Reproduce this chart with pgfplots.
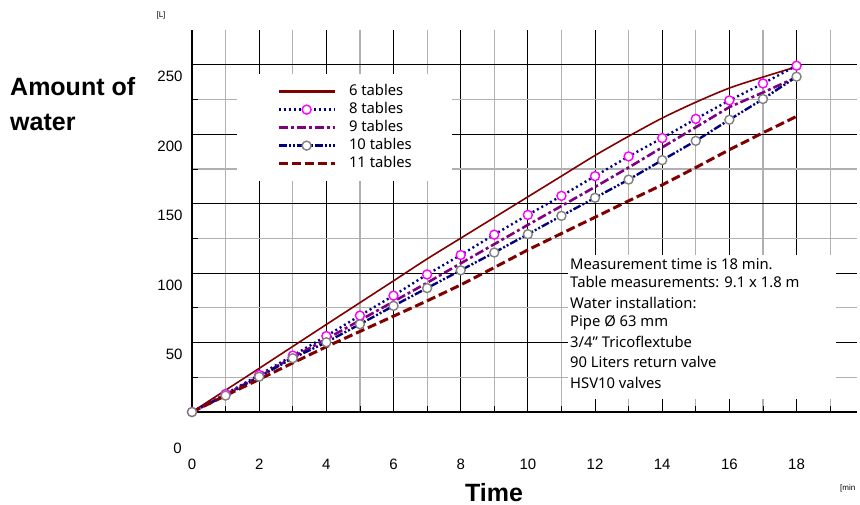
\documentclass[border=0pt]{standalone}
\usepackage{pgfplots}
\usepackage{pgfplotstable}
\pgfplotsset{compat=1.18}
\usepackage{fontspec}
\setmainfont{Noto Sans}
\newfontfamily\arialf{Liberation Sans}

\definecolor{darkred}{HTML}{800000}
\definecolor{navyb}{HTML}{000080}
\definecolor{purp}{HTML}{800080}
\definecolor{magn}{HTML}{FF00FF}
\definecolor{markgray}{HTML}{808080}
\definecolor{gridgray}{HTML}{B0B0B0}

% amount of water [L] per minute
\pgfplotstableread{
t  six    eight  nine   ten    eleven
0  0      0      0      0      0
1  15.7   13.0   12.5   11.8   11.8
2  31.4   26.7   25.8   25.4   23.5
3  47.2   40.6   39.3   38.7   35.3
4  63.0   54.7   52.5   50.2   47.0
5  78.7   69.4   66.0   63.2   58.0
6  94.4   83.8   79.5   76.4   69.0
7  110.2  99.0   93.0   89.2   80.0
8  125.1  113.0  107.0  102.0  91.5
9  140.0  127.7  120.8  114.8  104.0
10 154.9  141.9  134.7  128.0  116.7
11 169.8  155.6  148.3  141.2  128.5
12 184.7  169.8  162.0  154.2  140.2
13 198.5  184.0  176.0  167.3  152.0
14 211.6  197.2  190.5  181.3  163.5
15 223.0  211.0  205.0  195.2  176.0
16 233.2  224.3  219.5  210.4  188.8
17 241.1  236.5  230.0  225.3  201.0
18 248.5  249.3  241.0  241.4  212.8
}\datatable

\begin{document}
\begin{tikzpicture}
\useasboundingbox (0pt,0pt) rectangle (860pt,504pt);
\begin{axis}[
  at={(192pt,92pt)}, anchor=south west,
  scale only axis, width=665pt, height=382pt,
  xmin=0, xmax=19.8, ymin=0, ymax=275,
  axis x line=bottom, axis y line=left,
  axis line style={-, line width=1.6pt},
  xtick={0,2,...,18}, minor xtick={1,3,...,19},
  ytick={0,50,...,250}, minor ytick={25,75,...,225},
  yticklabels={,50,100,150,200,250},
  grid=both,
  major grid style={black, line width=1pt},
  minor grid style={gridgray, line width=1.2pt},
  tick align=inside, major tick length=9pt, minor tick length=6pt,
  every tick/.style={black, line width=0.8pt},
  /pgf/number format/assume math mode=true,
  ticklabel style={font=\arialf\fontsize{15}{15}\selectfont},
  xticklabel style={yshift=-43pt, text height=11pt, text depth=0pt},
  yticklabel style={yshift=-12pt, xshift=-6pt},
  legend style={at={(0.0677,0.885)}, anchor=north west,
    fill=white, draw=none, inner xsep=40pt, inner ysep=10pt,
    font=\fontsize{14.8}{14.8}\selectfont,
    nodes={inner sep=0pt, text height=11pt, text depth=4pt},
    row sep=3pt, column sep=13pt},
  legend cell align=left,
  legend image code/.code={
    \draw[mark repeat=2, mark phase=2, #1, line width=2.8pt]
      plot coordinates {(0pt,0pt) (28pt,0pt) (56pt,0pt)};},
]
\addplot[darkred, line width=1.6pt, smooth] table[x=t, y=six] {\datatable};
\addlegendentry{6 tables}
\addplot[navyb, line width=2.4pt, dash pattern=on 2pt off 3pt,
  mark=*, mark size=4.5pt,
  mark options={solid, draw=magn, fill=white, line width=1.4pt}]
  table[x=t, y=eight] {\datatable};
\addlegendentry{8 tables}
\addplot[purp, line width=2.6pt, dash pattern=on 9pt off 3pt on 3pt off 3pt]
  table[x=t, y=nine] {\datatable};
\addlegendentry{9 tables}
\addplot[navyb, line width=2.4pt,
  dash pattern=on 8pt off 2pt on 2pt off 2pt on 2pt off 2pt,
  mark=*, mark size=4.5pt,
  mark options={solid, draw=markgray, fill=white, line width=1.4pt}]
  table[x=t, y=ten] {\datatable};
\addlegendentry{10 tables}
\addplot[darkred, line width=3pt, dash pattern=on 9pt off 4pt]
  table[x=t, y=eleven] {\datatable};
\addlegendentry{11 tables}
\end{axis}

% zero of the amount axis, set lower than the axis line
\node[anchor=east, inner sep=0pt, font=\arialf\fontsize{15}{15}\selectfont] at (182pt,56pt) {0};

% axis titles and units
\node[anchor=base west, inner sep=0pt, font=\arialf\bfseries\fontsize{25}{28}\selectfont] at (10pt,408pt) {Amount of};
\node[anchor=base west, inner sep=0pt, font=\arialf\bfseries\fontsize{25}{28}\selectfont] at (10pt,373pt) {water};
\node[anchor=base, inner sep=0pt, font=\arialf\bfseries\fontsize{25}{28}\selectfont] at (494pt,3pt) {Time};
\node[anchor=center, inner sep=0pt, font=\arialf\fontsize{8}{8}\selectfont] at (161pt,489pt) {[L]};
\node[anchor=west, inner sep=0pt, font=\arialf\fontsize{8}{8}\selectfont] at (840pt,16pt) {[min};

% note box
\fill[white] (568pt,105pt) rectangle (836pt,249pt);
\begin{scope}[every node/.style={anchor=base west, inner sep=0pt, font=\fontsize{14.8}{14.8}\selectfont}]
\node at (570pt,234pt) {Measurement time is 18 min.};
\node at (570pt,216pt) {Table measurements: 9.1 x 1.8 m};
\node at (570pt,195pt) {Water installation:};
\node at (570pt,177pt) {Pipe Ø 63 mm};
\node at (570pt,156pt) {3/4” Tricoflextube};
\node at (570pt,136pt) {90 Liters return valve};
\node at (570pt,115pt) {HSV10 valves};
\end{scope}
\end{tikzpicture}
\end{document}
